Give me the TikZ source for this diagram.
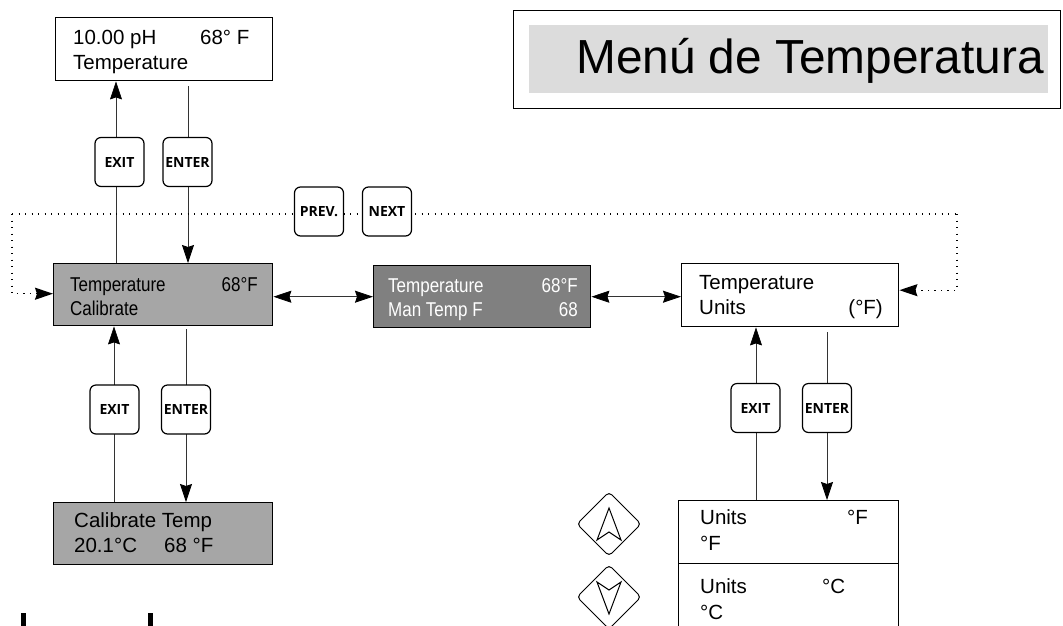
\documentclass[tikz,border=0pt]{standalone}
\usepackage{fontspec}
\setmainfont{Liberation Sans}
\newfontfamily\narrowfont{Liberation Sans}[FakeStretch=0.85]
\newfontfamily\keyfont{Open Sans}
\usetikzlibrary{arrows.meta}
\definecolor{lcdgray}{HTML}{A6A6A6}
\definecolor{lcddark}{HTML}{808080}
\definecolor{titlegray}{HTML}{DCDCDC}
\begin{document}
\begin{tikzpicture}[x=1pt,y=-1pt,
  screen/.style={draw=black, line width=1.4pt, rectangle, inner sep=0pt, anchor=north west},
  lcd/.style={font=\fontsize{20.5}{22}\selectfont, inner sep=0pt},
  lcdn/.style={font=\narrowfont\fontsize{20}{22}\selectfont, inner sep=0pt},
  keybox/.style={draw=black, line width=1.2pt, fill=white, rounded corners=6pt,
    minimum width=49pt, minimum height=49pt, inner sep=0pt,
    font=\keyfont\bfseries\fontsize{14}{15}\selectfont},
  tip/.tip={Stealth[length=18pt,width=12pt,inset=2pt,color=black]},
  link/.style={line width=0.75pt, draw=black!80},
  arr/.style={link, -tip},
  darr/.style={link, tip-tip},
  dots/.style={line width=1.3pt, dash pattern=on 1.3pt off 5.2pt},
  dotarr/.style={dots, -tip},
  navkey/.style={line width=1pt, rounded corners=4pt},
]
\useasboundingbox (0,0) rectangle (1063,625);

% title panel
\node[screen, line width=1.2pt, minimum width=547pt, minimum height=98pt] (title) at (513,10) {};
\fill[titlegray] (529,25) rectangle (1048,93);
\node[inner sep=0pt, anchor=base west, font=\fontsize{47.8}{50}\selectfont] (titletxt) at (576,73) {Menú de Temperatura};

% screens
\node[screen, minimum width=217pt, minimum height=63pt] (main) at (55,17) {};
\node[screen, fill=lcdgray, minimum width=219pt, minimum height=62pt] (cal) at (53,263) {};
\node[screen, fill=lcddark, minimum width=217pt, minimum height=62pt] (man) at (373,265) {};
\node[screen, minimum width=217pt, minimum height=63pt] (units) at (681,263) {};
\node[screen, fill=lcdgray, minimum width=219pt, minimum height=62pt] (calt) at (53,502) {};
\node[screen, minimum width=220pt, minimum height=63pt] (uf) at (678,500) {};
\node[screen, minimum width=220pt, minimum height=80pt] (uc) at (678,563) {};

% screen texts
\node[lcd, anchor=base west] (m1) at (73,44) {10.00 pH};
\node[lcd, anchor=base west] (m2) at (200,44) {68° F};
\node[lcd, anchor=base west] (m3) at (73,69) {Temperature};

\node[lcdn, anchor=base west] (c1) at (70,291) {Temperature};
\node[lcdn, anchor=base east] (c2) at (258,291) {68°F};
\node[lcdn, anchor=base west] (c3) at (70,315) {Calibrate};

\node[lcdn, anchor=base west, text=white] (n1) at (388,292) {Temperature};
\node[lcdn, anchor=base east, text=white] (n2) at (578,292) {68°F};
\node[lcdn, anchor=base west, text=white] (n3) at (388,316) {Man Temp F};
\node[lcdn, anchor=base east, text=white] (n4) at (578,316) {68};

\node[lcd, anchor=base west] (u1) at (699,289) {Temperature};
\node[lcd, anchor=base west] (u2) at (699,314) {Units};
\node[lcd, anchor=base east] (u3) at (883,314) {(°F)};

\node[lcd, anchor=base west] (k1) at (74,527) {Calibrate Temp};
\node[lcd, anchor=base west] (k2) at (74,552) {20.1°C};
\node[lcd, anchor=base west] (k3) at (164,552) {68 °F};

\node[lcd, anchor=base west] (f1) at (700,524) {Units};
\node[lcd, anchor=base west] (f2) at (847,524) {°F};
\node[lcd, anchor=base west] (f3) at (700,550) {°F};

\node[lcd, anchor=base west] (g1) at (700,593) {Units};
\node[lcd, anchor=base west] (g2) at (822,593) {°C};
\node[lcd, anchor=base west] (g3) at (700,619) {°C};

% vertical links through the keys
\draw[arr] ([xshift=63pt]cal.north west) -- ([xshift=61pt]main.south west);
\draw[arr] ([xshift=133pt,yshift=-5pt]main.south west) -- ([xshift=135pt]cal.north west);
\draw[arr] ([xshift=61pt]calt.north west) -- ([xshift=61pt]cal.south west);
\draw[arr] ([xshift=133pt,yshift=-3pt]cal.south west) -- ([xshift=133pt]calt.north west);
\draw[arr] ([xshift=78pt]uf.north west) -- ([xshift=75pt]units.south west);
\draw[arr] ([xshift=146pt,yshift=-5pt]units.south west) -- ([xshift=149pt]uf.north west);

% horizontal links between screens
\draw[darr] ([yshift=-2pt]cal.east) -- ([yshift=-2pt]cal.east -| man.west);
\draw[darr] (man.east) -- (man.east -| units.west);

% dotted PREV/NEXT loop
\coordinate (loopL) at (12,214);
\coordinate (loopR) at (957,214);
\draw[dotarr] (loopR) |- ([yshift=5pt]units.east);
\draw[dotarr] (loopL) |- ([yshift=1pt]cal.west);
\draw[dots] (loopL) -- (loopR);

% keys
\node[keybox] (exitA) at (119.5,162) {EXIT};
\node[keybox] (enterA) at (187.5,162) {ENTER};
\node[keybox] (prev) at (319,211.5) {PREV.};
\node[keybox] (next) at (387,211.5) {NEXT};
\node[keybox] (exitB) at (114.5,409.5) {EXIT};
\node[keybox] (enterB) at (186,409.5) {ENTER};
\node[keybox] (exitC) at (755.5,408) {EXIT};
\node[keybox] (enterC) at (827,408) {ENTER};

% arrow keys
\draw[navkey] (609,492) -- (641,524) -- (609,556) -- (577,524) -- cycle;
\draw[line width=1pt, line join=miter] (609,508) -- (621,540) -- (609,532) -- (597,540) -- cycle;
\draw[navkey] (609,565) -- (641,597) -- (609,629) -- (577,597) -- cycle;
\draw[line width=1pt, line join=miter] (609,614) -- (621,582) -- (609,590) -- (597,582) -- cycle;

% cut-off lettering at the lower edge
\fill[black] (21,613) rectangle (26,626);
\fill[black] (148,613) rectangle (153,626);
\end{tikzpicture}
\end{document}
